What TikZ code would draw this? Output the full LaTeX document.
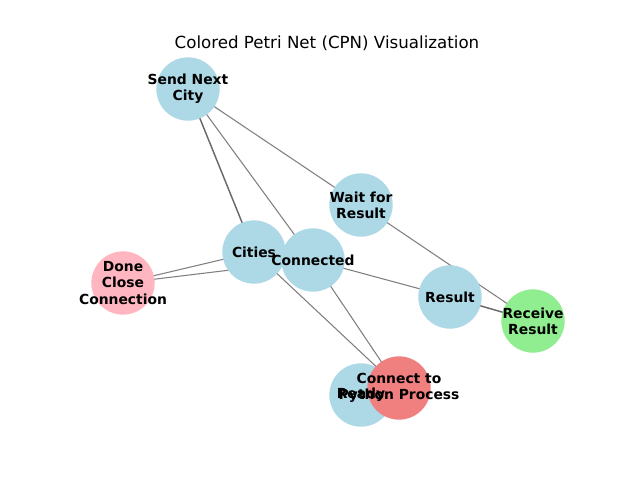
\documentclass[tikz,border=0pt]{standalone}
\usepackage{fontspec}
\setmainfont{DejaVu Sans}
\usetikzlibrary{backgrounds}
\definecolor{lblue}{HTML}{ADD8E6}
\definecolor{lpink}{HTML}{FFB6C1}
\definecolor{lgreen}{HTML}{90EE90}
\definecolor{lcoral}{HTML}{F08080}
\definecolor{egray}{HTML}{808080}
\definecolor{dgray}{HTML}{6A6A6A}
\begin{document}
\begin{tikzpicture}[x=0.75pt,y=-0.75pt,
  place/.style={circle, minimum size=47.5pt, inner sep=0pt, draw=none, fill=#1},
  place/.default=lblue,
  lab/.style={font=\bfseries\fontsize{10.4}{12.2}\selectfont, align=center, inner sep=0pt},
  edge/.style={draw=egray, line width=0.8pt},
  dedge/.style={draw=dgray, line width=1.1pt}]
\useasboundingbox (0,0) rectangle (640,480);
\node (title) at (327,43) {\fontsize{12.5}{14}\selectfont Colored Petri Net (CPN) Visualization};
% places
\node[place] (send) at (188,89) {};
\node[place] (wait) at (361,205) {};
\node[place] (cities) at (254,252) {};
\node[place] (conn) at (313,260) {};
\node[place=lpink] (done) at (123,283) {};
\node[place] (result) at (450,297) {};
\node[place=lgreen] (recv) at (533,321) {};
\node[place] (ready) at (361,395) {};
\node[place=lcoral] (python) at (399,388) {};
% labels
\node[lab] (tsend) at (send) {Send Next\\City};
\node[lab] (twait) at (wait) {Wait for\\Result};
\node[lab] (tcities) at (cities) {Cities};
\node[lab] (tconn) at (conn) {Connected};
\node[lab] (tdone) at (done) {Done\\Close\\Connection};
\node[lab] (tresult) at (result) {Result};
\node[lab] (trecv) at (recv) {Receive\\Result};
\node[lab] (tready) at (ready) {Ready};
\node[lab] (tpython) at (python) {Connect to\\Python Process};
% edges
\begin{scope}[on background layer]
\fill[white] (0,0) rectangle (640,480);
\draw[dedge] (send.center) -- (cities.center);
\draw[edge] (send.center) -- (conn.center);
\draw[edge] (send.center) -- (wait.center);
\draw[edge] (wait.center) -- (recv.center);
\draw[edge] (done.center) -- (cities.center);
\draw[edge] (done.center) -- (conn.center);
\draw[edge] (cities.center) -- (python.center);
\draw[edge] (conn.center) -- (python.center);
\draw[edge] (conn.center) -- (result.center);
\draw[dedge] (result.center) -- (recv.center);
\end{scope}
\end{tikzpicture}
\end{document}
